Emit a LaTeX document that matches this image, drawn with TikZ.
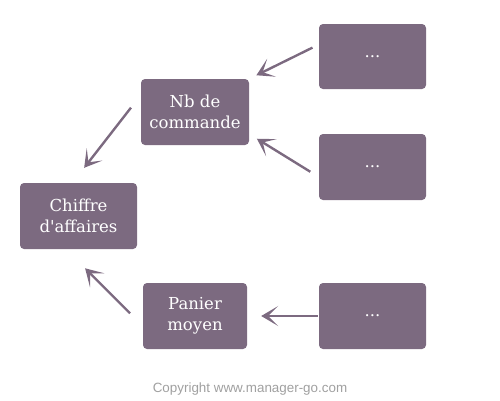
\documentclass[tikz,border=0pt]{standalone}
\usepackage{fontspec}
\newfontfamily\boxfont{DejaVu Serif}
\newfontfamily\copyfont{Liberation Sans}
\usetikzlibrary{arrows.meta}

\definecolor{plum}{RGB}{124,106,128}
\definecolor{copygray}{RGB}{160,160,160}

\tikzset{
  box/.style={fill=plum, text=white, rounded corners=4pt, align=center,
    inner sep=0pt, font=\boxfont\fontsize{16.5}{21}\selectfont},
  conn/.style={draw=plum, line width=2.4pt,
    -{Stealth[length=17pt,width=20pt,inset=10pt]}},
}

\begin{document}
\begin{tikzpicture}[x=1pt, y=-1pt]

  \useasboundingbox (0,0) rectangle (500,400);

  % ---- the boxes ----
  \node[box, minimum width=117pt, minimum height=66pt] (ca) at (78.5,216) {Chiffre\\d\textquotesingle affaires};
  \node[box, minimum width=108pt, minimum height=66pt] (nb) at (195,112) {Nb de\\commande};
  \node[box, minimum width=104pt, minimum height=66pt] (pm) at (195,316) {Panier\\moyen};

  % three boxes still to fill in
  \node[box, minimum width=107pt, minimum height=65pt] (ra) at (372.5,56.5) {...};
  \node[box, minimum width=107pt, minimum height=66pt] (rb) at (372.5,167) {...};
  \node[box, minimum width=107pt, minimum height=66pt] (rc) at (372.5,316) {...};

  % ---- connectors ----
  \draw[conn, shorten <=7pt, shorten >=8pt] ([yshift=12pt]ra.west) -- (nb.north east);
  \draw[conn, shorten <=10pt, shorten >=9pt] ([yshift=-10pt]rb.west) -- ([yshift=-22pt]nb.east);
  \draw[conn, shorten <=16pt, shorten >=19pt] ([yshift=17pt]nb.west) -- ([xshift=-6pt]ca.north);
  \draw[conn, shorten <=18pt, shorten >=27pt] ([yshift=-10pt]pm.west) -- ([xshift=-12.5pt]ca.south);
  \draw[conn, shorten <=1pt, shorten >=14pt] (rc.west) -- (pm.east);

  % ---- footer ----
  \node[text=copygray, font=\copyfont\fontsize{13.4}{16}\selectfont] (copy) at (250,389) {Copyright www.manager-go.com};

\end{tikzpicture}
\end{document}
